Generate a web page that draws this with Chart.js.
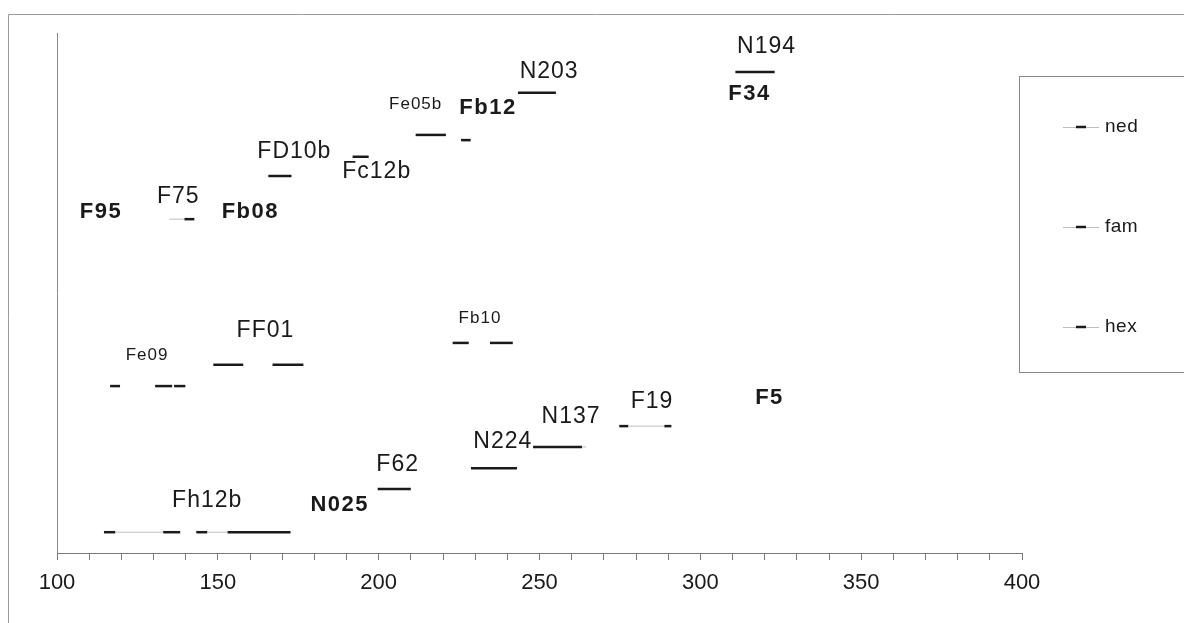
<!DOCTYPE html>
<html>
<head>
<meta charset="utf-8">
<script src="https://cdn.jsdelivr.net/npm/chart.js"></script>
<style>
  html, body { margin: 0; padding: 0; background: #fff; }
  #wrap { width: 1184px; height: 623px; }
</style>
</head>
<body>
<div id="wrap"><canvas id="chart" width="1184" height="623"></canvas></div>
<script>
// loci drawn as allele ranges (bp) at a fixed row level
const loci = ['F75', 'FD10b', 'Fc12b', 'Fe05b', 'Fb12', 'N203', 'N194',
  'Fe09', 'FF01', 'Fb10', 'F19', 'N137', 'N224', 'F62', 'Fh12b'];
const lociLevel = [64.2, 72.5, 76.2, 80.4, 79.4, 88.5, 92.5,
  32.1, 36.2, 40.4, 24.4, 20.4, 16.3, 12.3, 4.0];
const alleleRuns = [
  [[139.6, 142.7]],
  [[165.7, 172.9]],
  [[191.9, 196.9]],
  [[211.5, 220.9]],
  [[225.6, 228.6]],
  [[243.3, 255.1]],
  [[310.9, 323.1]],
  [[116.5, 119.6], [130.5, 135.8], [136.4, 139.9]],
  [[148.6, 157.9], [167.0, 176.6]],
  [[223.0, 228.0], [234.6, 241.7]],
  [[274.8, 277.6], [288.8, 291.0]],
  [[248.0, 263.2]],
  [[228.7, 243.0]],
  [[199.7, 210.0]],
  [[114.6, 118.1], [133.0, 138.3], [143.3, 146.7], [153.0, 172.6]]
];
const linkRuns = [
  [[134.9, 139.6]], [], [], [], [], [], [],
  [], [], [], [[277.6, 288.8]], [[263.2, 264.5]], [], [],
  [[118.1, 133.0], [146.7, 153.0]]
];

// text labels (x in bp, y in row units)
const labelText = ['F95', 'F75', 'Fb08', 'FD10b', 'Fc12b', 'Fe05b', 'Fb12', 'N203', 'N194', 'F34',
  'Fe09', 'FF01', 'Fb10', 'F19', 'F5', 'N137', 'N224', 'F62', 'N025', 'Fh12b'];
const labelX = [113.7, 137.7, 160.1, 173.8, 199.4, 211.5, 234.0, 253.0, 320.6, 315.3,
  128.0, 164.8, 231.5, 285.0, 321.5, 259.8, 238.6, 205.9, 187.9, 146.7];
const labelY = [65.6, 68.5, 65.6, 77.1, 73.3, 86.3, 85.6, 92.5, 97.3, 88.3,
  38.1, 42.7, 45.2, 29.2, 29.8, 26.3, 21.5, 16.9, 9.2, 10.0];
const labelKind = ['bold', 'normal', 'bold', 'normal', 'normal', 'small', 'bold', 'normal', 'normal', 'bold',
  'small', 'normal', 'small', 'normal', 'bold', 'normal', 'normal', 'normal', 'bold', 'normal'];

const seriesNames = ['ned', 'fam', 'hex'];
const xTicksMin = 100, xTicksMax = 400;

const INK = '#1a1a1a';
const FAINT = '#bdbdbd';
const FONT = '"Liberation Sans", Arial, sans-serif';

const datasets = [];
loci.forEach((name, i) => {
  linkRuns[i].forEach(r => {
    datasets.push({
      label: name + ' link',
      data: [{x: r[0], y: lociLevel[i]}, {x: r[1], y: lociLevel[i]}],
      showLine: true, borderColor: FAINT, borderWidth: 1, pointRadius: 0
    });
  });
  alleleRuns[i].forEach(r => {
    datasets.push({
      label: name,
      data: [{x: r[0], y: lociLevel[i]}, {x: r[1], y: lociLevel[i]}],
      showLine: true, borderColor: INK, borderWidth: 2.5, pointRadius: 0
    });
  });
});

const labelPlugin = {
  id: 'locusLabels',
  afterDatasetsDraw(chart) {
    const {ctx, scales} = chart;
    ctx.save();
    ctx.fillStyle = INK;
    ctx.textAlign = 'center';
    ctx.textBaseline = 'middle';
    labelText.forEach((t, i) => {
      const k = labelKind[i];
      if (k === 'bold') {
        ctx.font = 'bold 22px ' + FONT;
        ctx.letterSpacing = '1.5px';
      } else if (k === 'small') {
        ctx.font = '17px ' + FONT;
        ctx.letterSpacing = '1px';
      } else {
        ctx.font = '23px ' + FONT;
        ctx.letterSpacing = '1px';
      }
      ctx.fillText(t, scales.x.getPixelForValue(labelX[i]), scales.y.getPixelForValue(labelY[i]));
    });
    ctx.restore();
  }
};

const framePlugin = {
  id: 'frameAndLegend',
  afterDraw(chart) {
    const ctx = chart.ctx;
    ctx.save();
    // outer frame
    ctx.strokeStyle = '#9a9a9a';
    ctx.lineWidth = 1;
    ctx.beginPath();
    ctx.moveTo(8.5, 623); ctx.lineTo(8.5, 14.5); ctx.lineTo(1184, 14.5);
    ctx.stroke();
    // legend box
    ctx.strokeStyle = '#8a8a8a';
    ctx.strokeRect(1019.5, 76.5, 200, 296);
    ctx.font = '19px ' + FONT;
    ctx.letterSpacing = '0.5px';
    ctx.textBaseline = 'middle';
    ctx.textAlign = 'left';
    seriesNames.forEach((n, i) => {
      const y = 127 + i * 100;
      ctx.strokeStyle = FAINT;
      ctx.lineWidth = 1;
      ctx.beginPath();
      ctx.moveTo(1063, y + 0.5); ctx.lineTo(1099, y + 0.5);
      ctx.stroke();
      ctx.strokeStyle = INK;
      ctx.lineWidth = 2.5;
      ctx.beginPath();
      ctx.moveTo(1076, y); ctx.lineTo(1086, y);
      ctx.stroke();
      ctx.fillStyle = INK;
      ctx.fillText(n, 1105, y);
    });
    ctx.restore();
  }
};

new Chart(document.getElementById('chart').getContext('2d'), {
  type: 'scatter',
  data: {datasets: datasets},
  options: {
    responsive: false,
    animation: false,
    events: [],
    layout: {padding: {left: 57, right: 162, top: 33, bottom: 0}},
    plugins: {legend: {display: false}, tooltip: {enabled: false}},
    scales: {
      x: {
        type: 'linear',
        min: xTicksMin,
        max: xTicksMax,
        afterFit: s => { s.height = 70; },
        border: {display: true, color: '#7a7a7a', width: 1},
        grid: {drawOnChartArea: false, drawTicks: true, tickLength: 7, color: '#7a7a7a'},
        ticks: {
          stepSize: 10,
          autoSkip: false,
          maxRotation: 0,
          padding: 10,
          color: INK,
          font: {family: FONT, size: 22},
          callback: v => (v % 50 === 0 ? String(v) : '')
        }
      },
      y: {
        type: 'linear',
        min: 0,
        max: 100,
        afterFit: s => { s.width = 0; },
        border: {display: true, color: '#8a8a8a', width: 1},
        grid: {display: false},
        ticks: {display: false}
      }
    }
  },
  plugins: [labelPlugin, framePlugin]
});
</script>
</body>
</html>
